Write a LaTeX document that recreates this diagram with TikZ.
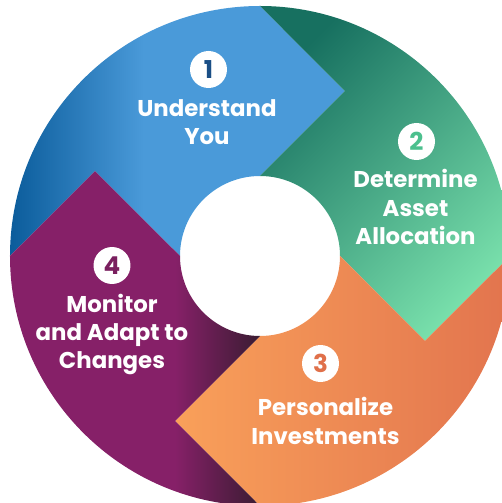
\documentclass[tikz,border=0pt]{standalone}
\usepackage{fontspec}
\setmainfont{Poppins}
\usepackage{tikz}

\definecolor{bluedark}{HTML}{0B5C9B}
\definecolor{bluemain}{HTML}{4A9AD9}
\definecolor{greendark}{HTML}{177060}
\definecolor{greenlight}{HTML}{78DFAB}
\definecolor{orangeleft}{HTML}{F9A05A}
\definecolor{orangeright}{HTML}{E2744E}
\definecolor{purplemain}{HTML}{862068}
\definecolor{purpledark}{HTML}{3A1C32}
\definecolor{numblue}{HTML}{1A4F86}
\definecolor{numgreen}{HTML}{4CC08E}
\definecolor{numorange}{HTML}{E0704A}
\definecolor{numpurple}{HTML}{7A1F5F}

\pgfdeclarehorizontalshading{blueshade}{100bp}{color(0bp)=(bluedark); color(25bp)=(bluedark); color(45bp)=(bluemain); color(100bp)=(bluemain)}
\pgfdeclarehorizontalshading{purpleshade}{100bp}{color(0bp)=(purplemain); color(58bp)=(purplemain); color(75bp)=(purpledark); color(100bp)=(purpledark)}

\tikzset{
  numcirc/.style={circle, fill=white, minimum size=0.74cm, inner sep=0pt, font=\bfseries\fontsize{14}{14}\selectfont},
  steptext/.style={text=white, align=center, inner sep=0pt, font=\bfseries\fontsize{13}{16.2}\selectfont}
}

\begin{document}
\begin{tikzpicture}[x=0.02cm, y=0.02cm]
\useasboundingbox (-260,-247) rectangle (242,256);

\shade[shading=blueshade] (180:80) -- (152.75:185.6) -- (180:250) arc[start angle=180, end angle=90, radius=250] -- (62.75:185.6) -- (90:80) arc[start angle=90, end angle=180, radius=80] -- cycle;
\shade[top color=greendark, bottom color=greenlight, shading angle=45] (90:80) -- (62.75:185.6) -- (90:250) arc[start angle=90, end angle=0, radius=250] -- (-27.25:185.6) -- (0:80) arc[start angle=0, end angle=90, radius=80] -- cycle;
\shade[left color=orangeleft, right color=orangeright] (0:80) -- (-27.25:185.6) -- (0:250) arc[start angle=0, end angle=-90, radius=250] -- (-117.25:185.6) -- (-90:80) arc[start angle=-90, end angle=0, radius=80] -- cycle;
\shade[shading=purpleshade] (-90:80) -- (-117.25:185.6) -- (-90:250) arc[start angle=-90, end angle=-180, radius=250] -- (-207.25:185.6) -- (-180:80) arc[start angle=-180, end angle=-90, radius=80] -- cycle;

\node[numcirc, text=numblue] (num1) at (-51.5,186.5) {1};
\node[steptext] (understand) at (-53,134) {Understand\\You};
\node[numcirc, text=numgreen] (num2) at (156.5,114.5) {2};
\node[steptext] (determine) at (155.5,49) {Determine\\Asset\\Allocation};
\node[numcirc, text=numorange] (num3) at (60.5,-107.5) {3};
\node[steptext] (personalize) at (65.5,-165) {Personalize\\Investments};
\node[numcirc, text=numpurple] (num4) at (-148,-9.5) {4};
\node[steptext] (monitor) at (-148,-78.5) {Monitor\\and Adapt to\\Changes};

\end{tikzpicture}
\end{document}
